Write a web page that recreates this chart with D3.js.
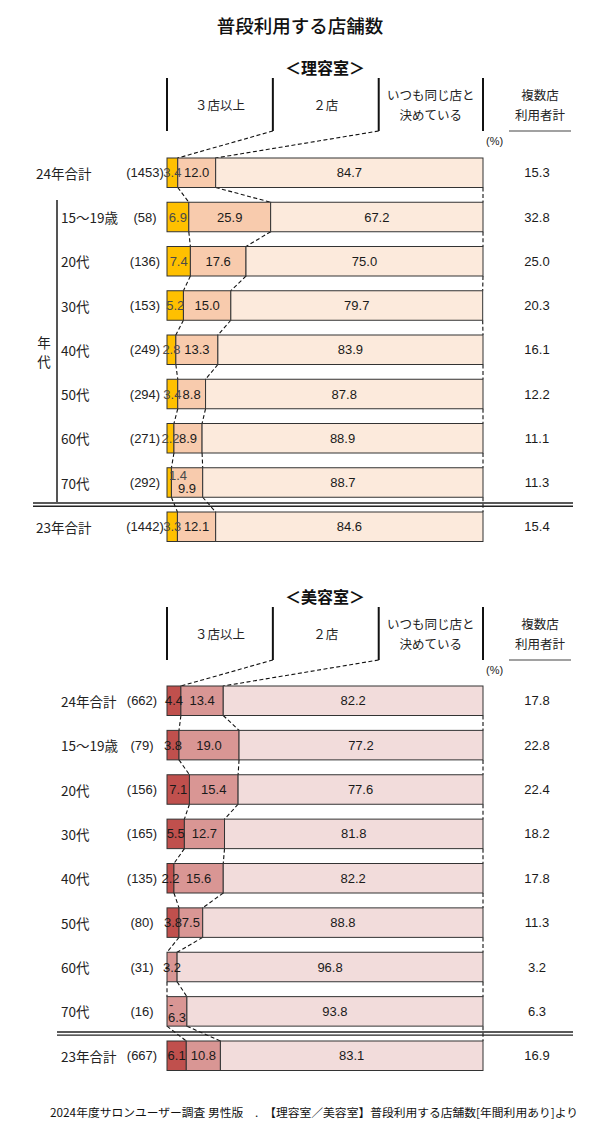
<!DOCTYPE html>
<html><head><meta charset="utf-8">
<script src="https://cdn.jsdelivr.net/npm/d3@7"></script>
<style>body{margin:0;background:#fff}svg{display:block}</style>
</head><body>
<script>
const rowLabels = ["24年合計","15～19歳","20代","30代","40代","50代","60代","70代","23年合計"];
const segNames = ["３店以上","２店","いつも同じ店と|決めている"];

const barberN = [1453,58,136,153,249,294,271,292,1442];
const barber3 = [3.4,6.9,7.4,5.2,2.8,3.4,2.2,1.4,3.3];
const barber2 = [12.0,25.9,17.6,15.0,13.3,8.8,8.9,9.9,12.1];
const barberSame = [84.7,67.2,75.0,79.7,83.9,87.8,88.9,88.7,84.6];
const barberMulti = [15.3,32.8,25.0,20.3,16.1,12.2,11.1,11.3,15.4];

const beautyN = [662,79,156,165,135,80,31,16,667];
const beauty3 = [4.4,3.8,7.1,5.5,2.2,3.8,0,0,6.1];
const beauty2 = [13.4,19.0,15.4,12.7,15.6,7.5,3.2,6.3,10.8];
const beautySame = [82.2,77.2,77.6,81.8,82.2,88.8,96.8,93.8,83.1];
const beautyMulti = [17.8,22.8,22.4,18.2,17.8,11.3,3.2,6.3,16.9];

const W = 600, H = 1131;
const svg = d3.select("body").append("svg").attr("width", W).attr("height", H);
const JP = "'Noto Sans CJK JP','Noto Sans',sans-serif";
const NUM = "'Liberation Sans',Arial,sans-serif";

svg.append("text").attr("x", 300).attr("y", 25).attr("text-anchor","middle")
  .attr("dominant-baseline","central").attr("font-family", JP).attr("font-size", 18.5)
  .attr("font-weight", 500).attr("fill","#111").text("普段利用する店舗数");

const x = d3.scaleLinear().domain([0,100]).range([167,483]);
const barH = 29.5;

function section(cfg){
  const g = svg.append("g");
  const [v3, v2, vs, multi, ns] = cfg.data;
  const y = d3.scaleLinear().domain([0, rowLabels.length-1]).range(cfg.yRange);
  const rows = rowLabels.map((lab,i)=>({lab, i, n: ns[i], a: v3[i], b: v2[i], c: vs[i], m: multi[i],
      c1: v3[i], c2: v3[i]+v2[i], c3: v3[i]+v2[i]+vs[i], top: y(i)}));

  g.append("text").attr("x", 325).attr("y", cfg.hy - 11).attr("text-anchor","middle")
    .attr("dominant-baseline","central").attr("font-family", JP).attr("font-size", 16)
    .attr("font-weight", 700).attr("fill","#111").text(cfg.title);

  const hx = [0, 33.5, 67, 100];
  g.selectAll("line.hv").data(hx).join("line")
    .attr("x1", d=>x(d)).attr("x2", d=>x(d)).attr("y1", cfg.hy).attr("y2", cfg.hy+53)
    .attr("stroke","#111").attr("stroke-width", 2);
  const hl = [{t:segNames[0], cx:(x(0)+x(33.5))/2}, {t:segNames[1], cx:(x(33.5)+x(67))/2},
              {t:segNames[2], cx:(x(67)+x(100))/2}, {t:"複数店|利用者計", cx:540}];
  hl.forEach(h=>{
    const parts = h.t.split("|");
    parts.forEach((p,k)=>{
      g.append("text").attr("x", h.cx)
        .attr("y", cfg.hy + 26 + (parts.length===2 ? (k===0?-10:10) : 0))
        .attr("text-anchor","middle").attr("dominant-baseline","central")
        .attr("font-family", JP).attr("font-size", 12.5).attr("fill","#222").text(p);
    });
  });
  g.append("line").attr("x1",509).attr("x2",571).attr("y1",cfg.hy+53).attr("y2",cfg.hy+53)
    .attr("stroke","#444").attr("stroke-width",1.2);
  g.append("text").attr("x",486).attr("y",cfg.hy+63).attr("dominant-baseline","central")
    .attr("font-family", NUM).attr("font-size", 11).attr("fill","#222").text("(%)");

  const r0 = rows[0];
  [[33.5, r0.c1],[67, r0.c2]].forEach(([h, b])=>{
    g.append("line").attr("x1", x(h)).attr("y1", cfg.hy+53).attr("x2", x(b)).attr("y2", r0.top)
      .attr("stroke","#111").attr("stroke-dasharray","4,2.5").attr("stroke-width",1.1);
  });

  for (let i=0;i<rows.length-1;i++){
    const a = rows[i], b = rows[i+1];
    ["c1","c2","c3"].forEach(k=>{
      g.append("line").attr("x1", x(Math.min(a[k],100))).attr("y1", a.top+barH)
        .attr("x2", x(Math.min(b[k],100))).attr("y2", b.top)
        .attr("stroke","#111").attr("stroke-dasharray","4,2.5").attr("stroke-width",1.1);
    });
  }

  const segs = [];
  rows.forEach(r=>{
    segs.push({r, x0:0, x1:r.c1, col:cfg.colors[0]});
    segs.push({r, x0:r.c1, x1:r.c2, col:cfg.colors[1]});
    segs.push({r, x0:r.c2, x1:Math.min(r.c3,100), col:cfg.colors[2]});
  });
  g.selectAll("rect.seg").data(segs.filter(s=>s.x1>s.x0)).join("rect")
    .attr("x", d=>x(d.x0)).attr("y", d=>d.r.top).attr("width", d=>x(d.x1)-x(d.x0))
    .attr("height", barH).attr("fill", d=>d.col).attr("stroke","#333").attr("stroke-width",1);

  rows.forEach(r=>{
    const stagger = r.i===7;
    const cy = r.top + barH/2;
    g.append("text").attr("x", stagger ? x(0)+2 : x(r.c1/2)).attr("y", cy + (stagger?-7:0))
      .attr("text-anchor", stagger ? "start" : "middle").attr("dominant-baseline","central")
      .attr("font-family", NUM).attr("font-size", 13).attr("fill", cfg.lab3)
      .text(r.a===0 ? "-" : r.a.toFixed(1));
    g.append("text").attr("x", x((r.c1+r.c2)/2)).attr("y", cy + (stagger?6:0))
      .attr("text-anchor","middle").attr("dominant-baseline","central")
      .attr("font-family", NUM).attr("font-size", 13).attr("fill","#1a1a1a").text(r.b.toFixed(1));
    g.append("text").attr("x", x((r.c2+Math.min(r.c3,100))/2)).attr("y", cy)
      .attr("text-anchor","middle").attr("dominant-baseline","central")
      .attr("font-family", NUM).attr("font-size", 13).attr("fill","#1a1a1a").text(r.c.toFixed(1));
    g.append("text").attr("x", 537).attr("y", cy)
      .attr("text-anchor","middle").attr("dominant-baseline","central")
      .attr("font-family", NUM).attr("font-size", 13).attr("fill","#1a1a1a").text(r.m.toFixed(1));
    const isTotal = (r.i===0 || r.i===rows.length-1);
    g.append("text").attr("x", isTotal ? cfg.totalX : 61).attr("y", cy)
      .attr("dominant-baseline","central").attr("font-family", JP).attr("font-size", 13.5)
      .attr("fill","#222").text(r.lab);
    g.append("text").attr("x", cfg.nX).attr("y", cy).attr("text-anchor","middle")
      .attr("dominant-baseline","central").attr("font-family", NUM).attr("font-size", 13)
      .attr("fill","#222").text("(" + r.n + ")");
  });

  const sepY = (rows[7].top + barH + rows[8].top)/2;
  [-1.6, 1.6].forEach(o=>{
    g.append("line").attr("x1", cfg.sepX).attr("x2", 573).attr("y1", sepY+o).attr("y2", sepY+o)
      .attr("stroke","#222").attr("stroke-width",1.4);
  });
  return rows;
}

section({title:"＜理容室＞", hy:78, yRange:[158,512],
  data:[barber3, barber2, barberSame, barberMulti, barberN],
  colors:["#FFC000","#F8CBAD","#FCEADC"], lab3:"#4a4a4a", totalX:36, nX:145, sepX:33});

svg.append("line").attr("x1",57).attr("x2",57).attr("y1",200).attr("y2",502)
  .attr("stroke","#555").attr("stroke-width",2);
["年","代"].forEach((t,k)=>{
  svg.append("text").attr("x",44).attr("y",342+k*19).attr("text-anchor","middle")
    .attr("dominant-baseline","central").attr("font-family",JP).attr("font-size",13.5)
    .attr("fill","#222").text(t);
});

section({title:"＜美容室＞", hy:607, yRange:[686,1041],
  data:[beauty3, beauty2, beautySame, beautyMulti, beautyN],
  colors:["#C0504D","#D99694","#F2DCDB"], lab3:"#1a1a1a", totalX:61, nX:142, sepX:57});

svg.append("text").attr("x",50).attr("y",1112).attr("dominant-baseline","central")
  .attr("font-family",JP).attr("font-size",11.5).attr("fill","#111")
  .attr("textLength",528).attr("lengthAdjust","spacingAndGlyphs")
  .text("2024年度サロンユーザー調査 男性版　.　【理容室／美容室】普段利用する店舗数[年間利用あり]より");
</script>
</body></html>
